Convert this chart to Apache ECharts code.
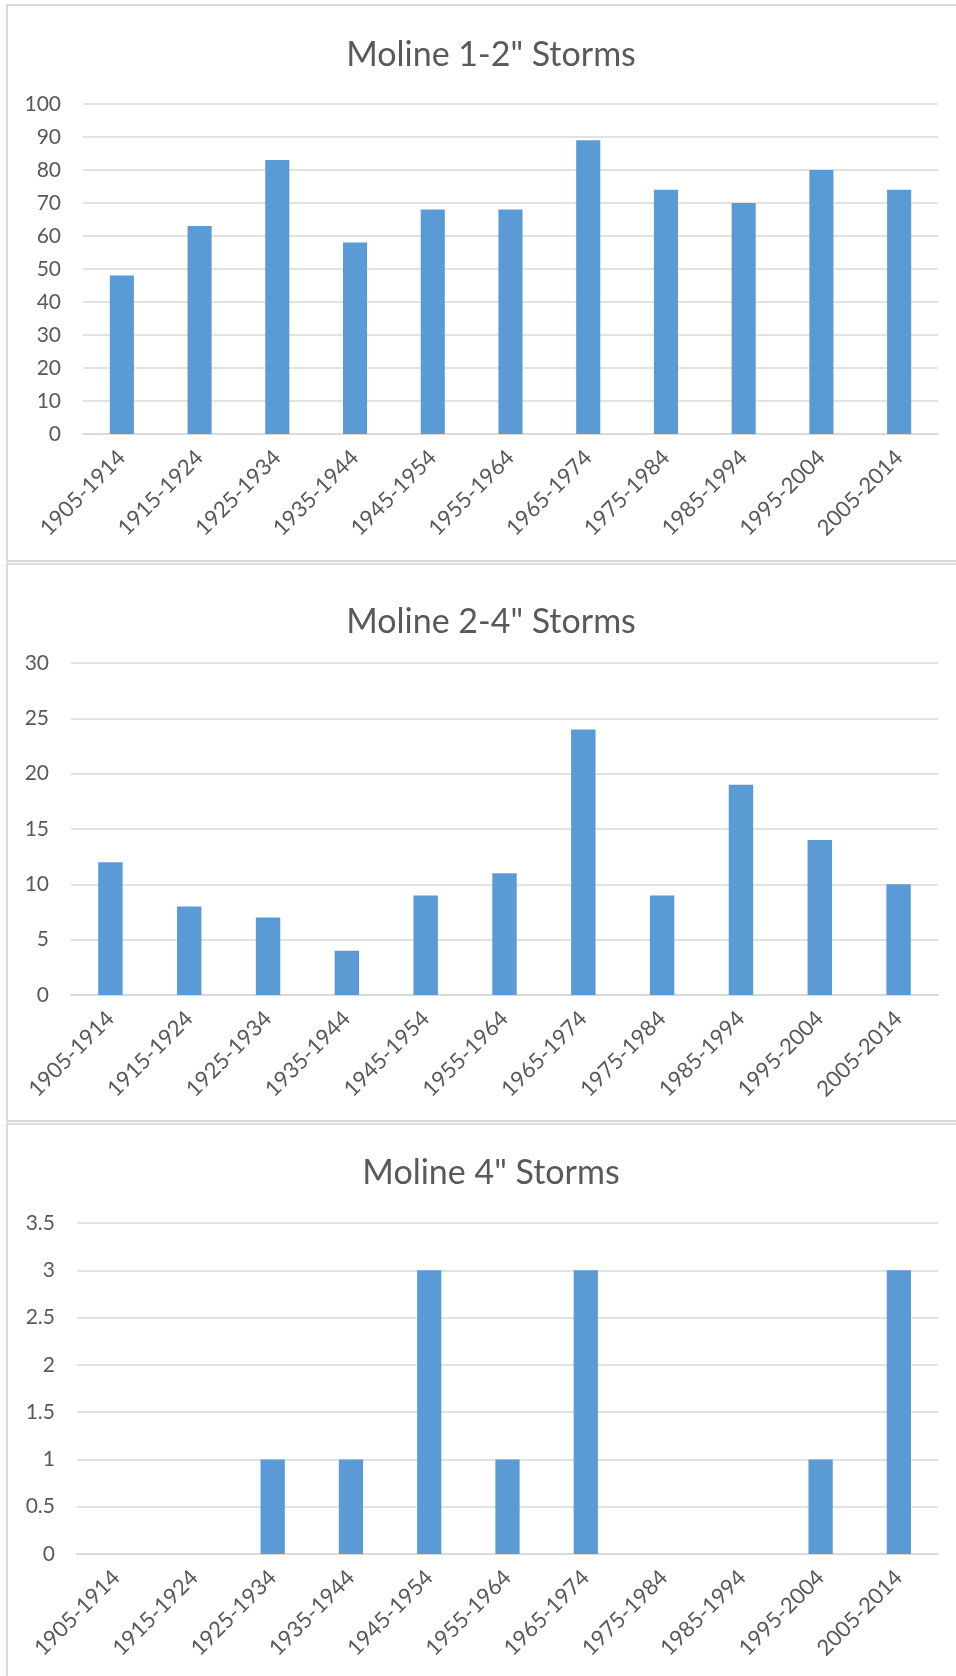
<!DOCTYPE html>
<html>
<head>
<meta charset="utf-8">
<script src="https://cdn.jsdelivr.net/npm/echarts@6/dist/echarts.min.js"></script>
<style>
  html, body { margin: 0; padding: 0; background: #ffffff; }
  #chart { width: 956px; height: 1676px; }
</style>
</head>
<body>
<div id="chart"></div>
<script>
// Decades shared by all three panels
const decades = ['1905-1914', '1915-1924', '1925-1934', '1935-1944', '1945-1954',
  '1955-1964', '1965-1974', '1975-1984', '1985-1994', '1995-2004', '2005-2014'];

// Storm counts per decade
const storms1to2 = [48, 63, 83, 58, 68, 68, 89, 74, 70, 80, 74];
const storms2to4 = [12, 8, 7, 4, 9, 11, 24, 9, 19, 14, 10];
const storms4 = [0, 0, 1, 1, 3, 1, 3, 0, 0, 1, 3];

const titles = ['Moline 1-2" Storms', 'Moline 2-4" Storms', 'Moline 4" Storms'];
const yMax = [100, 30, 3.5];
const yStep = [10, 5, 0.5];

const FONT = 'Lato, "Open Sans", "Liberation Sans", sans-serif';
const TEXT = '#595959';
const GRID_LINE = '#d9d9d9';
const BAR = '#5b9bd5';

const panels = [
  { top: 5, height: 556, titleTop: 33, grid: { left: 83, top: 104, height: 330 } },
  { top: 564, height: 557, titleTop: 600, grid: { left: 71, top: 663, height: 332 } },
  { top: 1124, height: 600, titleTop: 1151, grid: { left: 77, top: 1223, height: 331 } }
];
const seriesData = [storms1to2, storms2to4, storms4];

const option = {
  backgroundColor: '#ffffff',
  animation: false,
  graphic: panels.map(p => ({
    type: 'rect',
    silent: true,
    z: -10,
    shape: { x: 7, y: p.top, width: 1000, height: p.height },
    style: { fill: '#ffffff', stroke: GRID_LINE, lineWidth: 2 }
  })),
  title: titles.map((t, i) => ({
    text: t,
    left: 486,
    textAlign: 'center',
    top: panels[i].titleTop,
    textStyle: { fontFamily: FONT, fontSize: 34, fontWeight: 'normal', color: TEXT }
  })),
  grid: panels.map(p => ({
    left: p.grid.left, right: 18, top: p.grid.top, height: p.grid.height,
    containLabel: false
  })),
  xAxis: panels.map((p, i) => ({
    type: 'category',
    gridIndex: i,
    data: decades,
    axisLine: { show: true, lineStyle: { color: GRID_LINE, width: 2 } },
    axisTick: { show: false },
    axisLabel: {
      rotate: 45, margin: 20, interval: 0,
      fontFamily: FONT, fontSize: 22, color: TEXT
    }
  })),
  yAxis: panels.map((p, i) => ({
    type: 'value',
    gridIndex: i,
    min: 0, max: yMax[i], interval: yStep[i],
    axisLine: { show: false },
    axisTick: { show: false },
    splitLine: { lineStyle: { color: GRID_LINE, width: 1.5 } },
    axisLabel: { margin: 22, fontFamily: FONT, fontSize: 21, color: TEXT }
  })),
  series: seriesData.map((d, i) => ({
    type: 'bar',
    xAxisIndex: i,
    yAxisIndex: i,
    data: d,
    barWidth: '31%',
    itemStyle: { color: BAR }
  }))
};

const chart = echarts.init(document.getElementById('chart'), null, { renderer: 'canvas' });
chart.setOption(option);
</script>
</body>
</html>
